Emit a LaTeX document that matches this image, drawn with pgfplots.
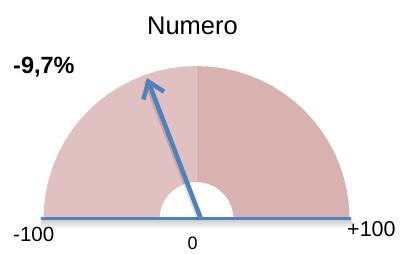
\documentclass[border=0pt]{standalone}
\usepackage{pgfplots}
\pgfplotsset{compat=1.18}
\usepackage{fontspec}
\setmainfont{Liberation Sans}
\usetikzlibrary{arrows.meta}
\definecolor{leftpink}{RGB}{224,192,192}
\definecolor{rightpink}{RGB}{216,177,177}
\definecolor{needle}{RGB}{79,129,189}
\begin{document}
\begin{tikzpicture}
\begin{axis}[
  x=1pt, y=1pt, scale only axis, hide axis,
  xmin=-196.5, xmax=203.5, ymin=-35, ymax=219,
  clip=false,
]
% left half of the gauge (-100 .. 0)
\addplot[draw=none, fill=leftpink, data cs=polar] coordinates {
 (90,153) (95,153) (100,153) (105,153) (110,153) (115,153) (120,153) (125,153) (130,153) (135,153)
 (140,153) (145,153) (150,153) (155,153) (160,153) (165,153) (170,153) (175,153) (180,153)
 (180,37) (170,37) (160,37) (150,37) (140,37) (130,37) (120,37) (110,37) (100,37) (90,37)
} -- cycle;
% right half of the gauge (0 .. +100)
\addplot[draw=none, fill=rightpink, data cs=polar] coordinates {
 (0,153) (5,153) (10,153) (15,153) (20,153) (25,153) (30,153) (35,153) (40,153) (45,153)
 (50,153) (55,153) (60,153) (65,153) (70,153) (75,153) (80,153) (85,153) (90,153)
 (90,37) (80,37) (70,37) (60,37) (50,37) (40,37) (30,37) (20,37) (10,37) (0,37)
} -- cycle;
% shadow below the baseline
\addplot[draw=none, top color=black!18, bottom color=white] coordinates {(-155,-1.5) (155,-1.5) (155,-10) (-155,-10)} -- cycle;
% baseline
\addplot[needle, line width=3pt] coordinates {(-155.5,0) (154.5,0)};
% needle shadow
\addplot[black, opacity=0.12, line width=4pt] coordinates {(2.5,-1) (-51,138)};
% needle
\addplot[needle, line width=4.5pt, -{Straight Barb[length=15pt, width=22pt, line width=4.5pt]}] coordinates {(4.5,0) (-49.5,141)};
% labels
\node[anchor=base, inner sep=0, font=\fontsize{25.5}{25.5}\selectfont] at (axis cs:-4,184) {Numero};
\node[anchor=base west, inner sep=0, font=\fontsize{23.5}{23.5}\selectfont\bfseries] at (axis cs:-183.5,145) {-9,7\%};
\node[anchor=base west, inner sep=0, font=\fontsize{20.5}{20.5}\selectfont] at (axis cs:-183.5,-23) {-100};
\node[anchor=base west, inner sep=0, font=\fontsize{21.5}{21.5}\selectfont] at (axis cs:150.5,-18) {+100};
\node[anchor=base west, inner sep=0, font=\fontsize{18}{18}\selectfont] at (axis cs:-9,-31) {0};
\end{axis}
\pgfresetboundingbox
\path (current axis.south west) rectangle (current axis.north east);
\end{tikzpicture}
\end{document}
